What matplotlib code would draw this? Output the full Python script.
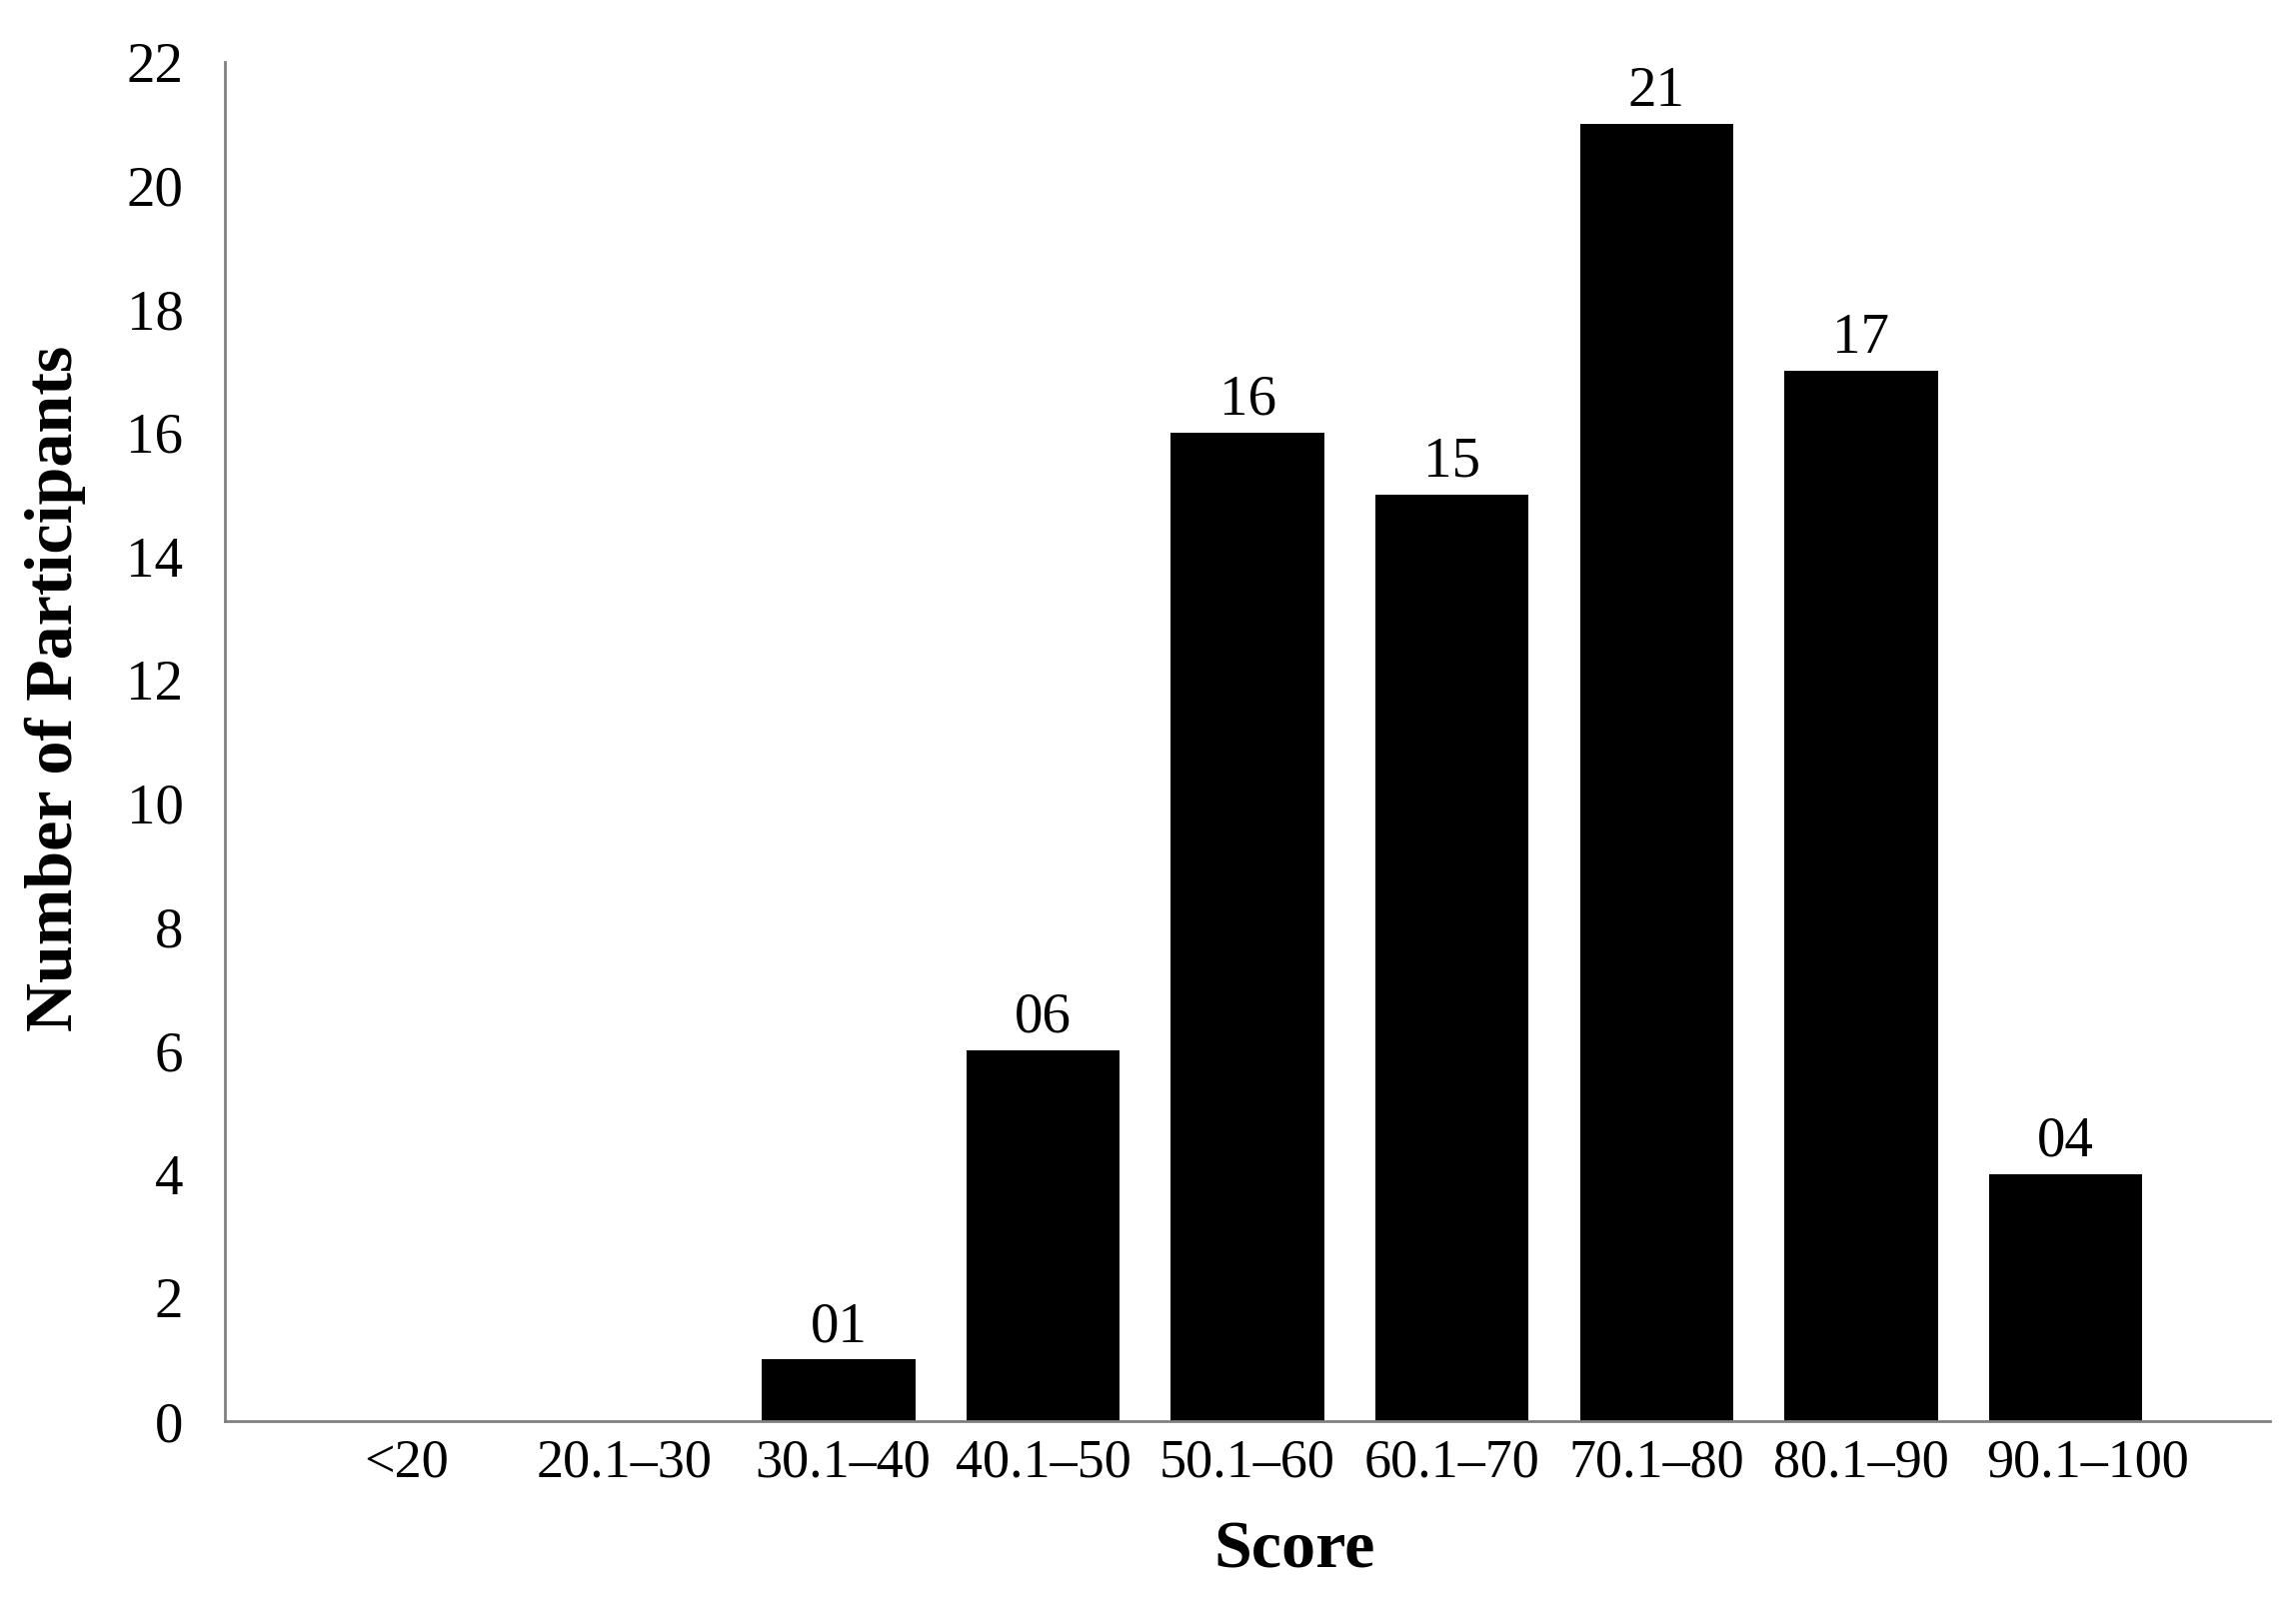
import matplotlib
matplotlib.use("Agg")
import matplotlib.pyplot as plt
import matplotlib.transforms as mtransforms

categories = ["<20", "20.1\u201330", "30.1\u201340", "40.1\u201350", "50.1\u201360",
              "60.1\u201370", "70.1\u201380", "80.1\u201390", "90.1\u2013100"]
counts = [0, 0, 1, 6, 16, 15, 21, 17, 4]
bar_labels = ["", "", "01", "06", "16", "15", "21", "17", "04"]
y_ticks = list(range(0, 23, 2))

# small horizontal nudges of tick labels (figure pixels), as in the original layout
label_nudge_px = [-23, -10, 4, 0, 0, 0, 0, 0, 22]

plt.rcParams['font.family'] = ['Liberation Serif', 'DejaVu Serif']

fig = plt.figure(figsize=(22.97, 16.07), dpi=100)
ax = fig.add_axes([0.098, 0.1151, 0.8907, 0.8463])

x = list(range(len(categories)))
ax.bar(x, counts, width=0.75, color="black")
for xi, c, lab in zip(x, counts, bar_labels):
    if lab:
        ax.text(xi, c + 0.1, lab, ha="center", va="bottom", fontsize=41)

ax.set_xlim(-1, 9)
ax.set_ylim(0, 22)
ax.set_xticks(x)
ax.set_xticklabels(categories, fontsize=39)
ax.set_yticks(y_ticks)
ax.set_yticklabels([str(t) for t in y_ticks], fontsize=41)
ax.tick_params(axis="both", length=0)
ax.tick_params(axis="y", pad=30)
ax.tick_params(axis="x", pad=12)

for lbl, dx in zip(ax.get_xticklabels(), label_nudge_px):
    off = mtransforms.ScaledTranslation(dx / fig.dpi, 0, fig.dpi_scale_trans)
    lbl.set_transform(lbl.get_transform() + off)

for s in ["top", "right"]:
    ax.spines[s].set_visible(False)
for s in ["left", "bottom"]:
    ax.spines[s].set_color("#808080")
    ax.spines[s].set_linewidth(2)

ax.set_xlabel("Score", fontsize=49, fontweight="bold")
ax.set_ylabel("Number of Participants", fontsize=49, fontweight="bold")
ax.xaxis.set_label_coords(0.5228, -0.073)
ax.yaxis.set_label_coords(-0.068, 0.539)

fig.savefig("out.png", dpi=100)
